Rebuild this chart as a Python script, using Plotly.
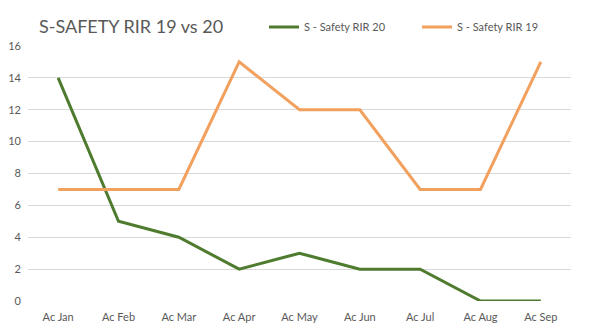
import plotly.graph_objects as go

months = ["Ac Jan", "Ac Feb", "Ac Mar", "Ac Apr", "Ac May", "Ac Jun", "Ac Jul", "Ac Aug", "Ac Sep"]
rir_20 = [14, 5, 4, 2, 3, 2, 2, 0, 0]
rir_19 = [7, 7, 7, 15, 12, 12, 7, 7, 15]
y_ticks = [0, 2, 4, 6, 8, 10, 12, 14, 16]

GREEN = "#4E7B2E"
ORANGE = "#F2A05E"
TEXT = "#595959"
FONT = "Lato, 'Open Sans', sans-serif"

fig = go.Figure()
fig.add_trace(go.Scatter(x=months, y=rir_20, mode="lines", name="S - Safety RIR 20",
                         line=dict(color=GREEN, width=3)))
fig.add_trace(go.Scatter(x=months, y=rir_19, mode="lines", name="S - Safety RIR 19",
                         line=dict(color=ORANGE, width=3)))

fig.update_layout(
    width=598, height=336,
    margin=dict(l=28, r=27, t=46, b=35, autoexpand=False),
    paper_bgcolor="white", plot_bgcolor="white",
    font=dict(family=FONT, color=TEXT, size=11),
    title=dict(text="S-SAFETY RIR 19 vs 20", x=39 / 598, xanchor="left",
               y=1 - 27 / 336, yanchor="middle",
               font=dict(size=18, color=TEXT, family=FONT)),
    legend=dict(orientation="h", xref="container", yref="container",
                x=264 / 598, xanchor="left", y=1 - 27 / 336, yanchor="middle",
                font=dict(size=11, color=TEXT), entrywidth=108, entrywidthmode="pixels",
                bgcolor="rgba(0,0,0,0)"),
    xaxis=dict(range=[-0.5, 8.5], showgrid=False, showline=False, zeroline=False, ticks="",
               ticklabelstandoff=8, tickfont=dict(size=11, color=TEXT)),
    yaxis=dict(range=[0, 16], tickvals=y_ticks, showgrid=True, gridcolor="#D9D9D9",
               gridwidth=1, zeroline=False, showline=False, ticks="",
               ticklabelstandoff=6, tickfont=dict(size=11, color=TEXT)),
)

fig.write_html("out.html")
